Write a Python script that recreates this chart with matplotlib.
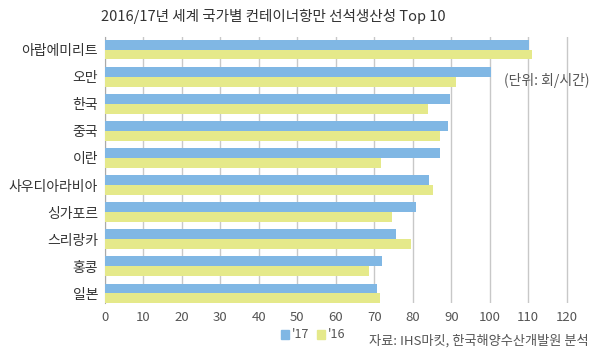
import numpy as np
import matplotlib
matplotlib.use("Agg")
import matplotlib.pyplot as plt
from matplotlib.patches import Patch

plt.rcParams['font.family'] = ['Noto Sans CJK KR', 'DejaVu Sans']

countries = ["아랍에미리트", "오만", "한국", "중국", "이란",
             "사우디아라비아", "싱가포르", "스리랑카", "홍콩", "일본"]
v17 = [110.3, 100.4, 89.6, 89.1, 87.0, 84.2, 80.8, 75.5, 72.1, 70.6]
v16 = [111.0, 91.3, 83.9, 87.0, 71.6, 85.2, 74.7, 79.4, 68.7, 71.5]
xticks = list(range(0, 121, 10))

blue = "#80b7e4"
yellow = "#e5e98a"
txt = "#333333"

fig = plt.figure(figsize=(6, 3.55), dpi=100)
ax = fig.add_axes([105/600, 1-303/355, 481/600, 266/355])

y = np.arange(len(countries))
h = 0.36
ax.barh(y - h/2, v17, height=h, color=blue, label="'17", zorder=3)
ax.barh(y + h/2, v16, height=h, color=yellow, label="'16", zorder=3)

ax.set_ylim(9.36, -0.47)
ax.set_xlim(0, 125)
ax.set_xticks(xticks)
ax.set_yticks(y)
ax.set_yticklabels(countries, fontsize=10, color=txt)
ax.tick_params(axis='y', length=0, pad=5)
ax.tick_params(axis='x', length=0, pad=6, labelsize=9.5, labelcolor="#555555")
ax.grid(axis='x', color="#c8c8c8", linewidth=1, zorder=0)
for s in ["top", "right", "bottom"]:
    ax.spines[s].set_visible(False)
ax.spines["left"].set_color("#aaaaaa")

fig.text(273/600, 1-16/355, "2016/17년 세계 국가별 컨테이너항만 선석생산성 Top 10",
         ha="center", va="center", fontsize=10.5, color=txt)
fig.text(589/600, 1-80/355, "(단위: 회/시간)", ha="right", va="center",
         fontsize=10, color="#555555")
fig.text(589/600, 1-341/355, "자료: IHS마킷, 한국해양수산개발원 분석", ha="right",
         va="center", fontsize=9.5, color="#555555")

handles = [Patch(color=blue), Patch(color=yellow)]
fig.legend(handles, ["'17", "'16"], loc="center", bbox_to_anchor=(313/600, 1-335/355),
           ncol=2, frameon=False, fontsize=9, handlelength=0.7, handleheight=0.7,
           handletextpad=0.2, columnspacing=0.6, labelcolor="#555555",
           borderpad=0, borderaxespad=0)

fig.savefig("out.png", dpi=100)
